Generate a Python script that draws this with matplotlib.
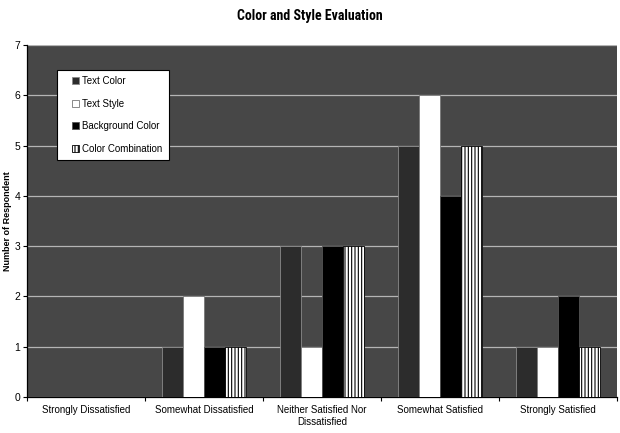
import numpy as np
import matplotlib
matplotlib.use("Agg")
import matplotlib.pyplot as plt
import matplotlib.patches as mpatches
from matplotlib.legend_handler import HandlerPatch

# data
categories = ["Strongly Dissatisfied", "Somewhat Dissatisfied",
              "Neither Satisfied Nor\nDissatisfied", "Somewhat Satisfied",
              "Strongly Satisfied"]
series_names = ["Text Color", "Text Style", "Background Color", "Color Combination"]
text_color = [0, 1, 3, 5, 1]
text_style = [0, 2, 1, 6, 1]
background_color = [0, 1, 3, 4, 2]
color_combination = [0, 1, 3, 5, 1]
y_ticks = [0, 1, 2, 3, 4, 5, 6, 7]

plt.rcParams['font.family'] = ['Liberation Sans', 'DejaVu Sans']
plt.rcParams['hatch.linewidth'] = 0.8

fig = plt.figure(figsize=(6.2, 4.33), dpi=100)
ax = fig.add_axes([0.0435, 0.0831, 0.9515, 0.8129])
ax.set_facecolor('#474747')

x = np.arange(len(categories))
w = 0.177
styles = [
    dict(facecolor='#2c2c2c', edgecolor='#8a8a8a', hatch=None),
    dict(facecolor='white', edgecolor='#777777', hatch=None),
    dict(facecolor='black', edgecolor='#555555', hatch=None),
    dict(facecolor='white', edgecolor='black', hatch='|||||'),
]
values = [text_color, text_style, background_color, color_combination]
handles = []
for i, (vals, name, st) in enumerate(zip(values, series_names, styles)):
    bars = ax.bar(x + (i - 1.5) * w, vals, width=w, label=name, linewidth=0.6,
                  zorder=3, **st)
    handles.append(bars.patches[0])

ax.set_xlim(-0.5, len(categories) - 0.5)
ax.set_ylim(0, 7)
ax.set_yticks(y_ticks)
ax.yaxis.grid(True, color='#b5b5b5', linewidth=0.9, zorder=1)
ax.set_axisbelow(True)
ax.set_xticks(x)
ax.set_xticklabels(categories, fontsize=7)
ax.set_xticks(np.arange(len(categories) + 1) - 0.5, minor=True)
ax.tick_params(axis='x', which='major', length=0, pad=6)
ax.tick_params(axis='x', which='minor', length=3, width=0.8)
ax.tick_params(axis='y', labelsize=7.5, length=3, width=0.8, pad=2)
for side in ['top', 'right']:
    ax.spines[side].set_visible(False)
ax.spines['left'].set_linewidth(0.9)
ax.spines['bottom'].set_linewidth(0.9)

ax.set_ylabel("Number of Respondent", fontsize=6.5, fontweight='bold')
ax.yaxis.set_label_coords(-0.026, 0.5)

fig.text(0.5, 0.962, "Color and Style Evaluation", ha='center', va='center',
         fontsize=10, fontweight='bold',
         family=['Roboto Condensed', 'Liberation Sans Narrow', 'Roboto'])


# small square marker sitting at the right end of the handle box
def small_square(legend, orig_handle, xdescent, ydescent, width, height, fontsize):
    s = height
    return mpatches.Rectangle((width - s - xdescent, -ydescent), s, s)


leg = ax.legend(handles, series_names, loc='upper left',
                bbox_to_anchor=(0.051, 0.93), fontsize=7,
                handlelength=1.6, handleheight=0.7, handletextpad=0.35,
                labelspacing=1.3, borderpad=0.65, borderaxespad=0,
                fancybox=False, edgecolor='black', framealpha=1,
                handler_map={mpatches.Rectangle: HandlerPatch(patch_func=small_square)})
leg.get_frame().set_linewidth(0.8)

fig.savefig("out.png", dpi=100)
